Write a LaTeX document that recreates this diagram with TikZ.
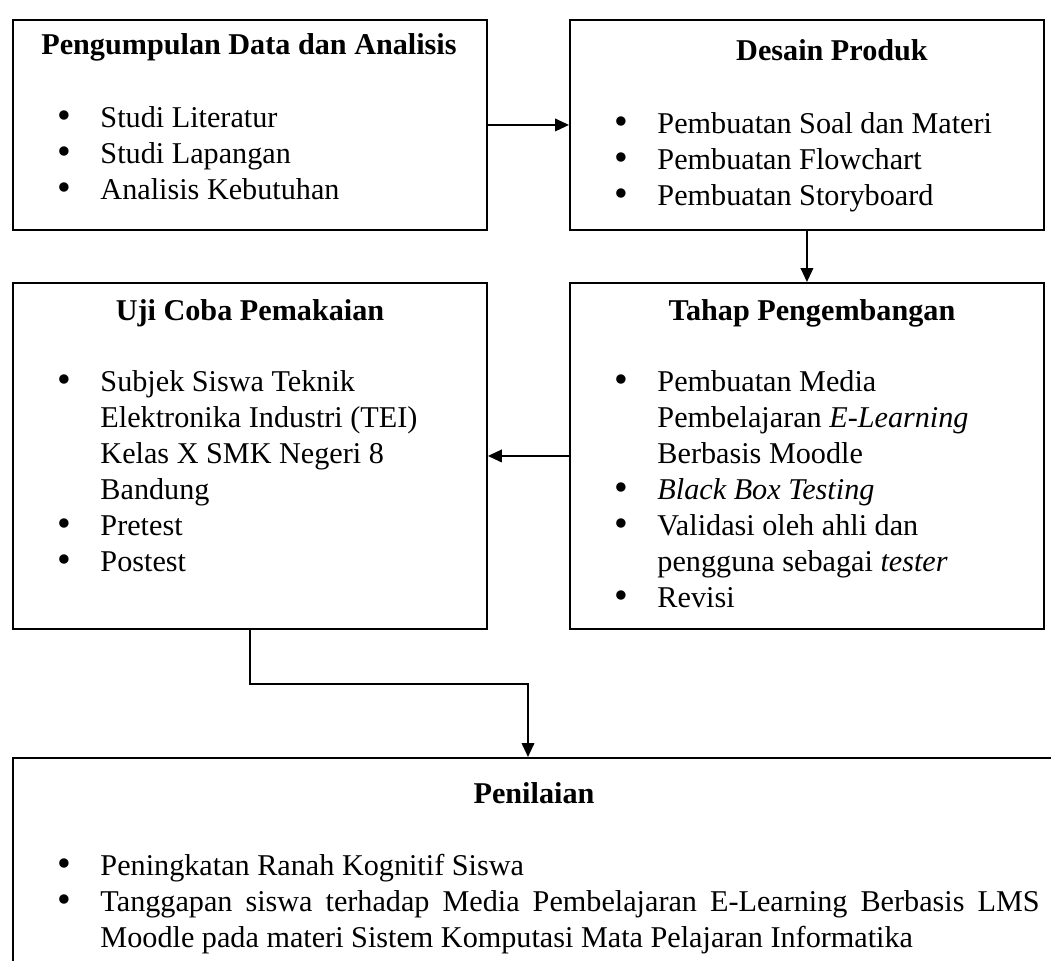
\documentclass[tikz,border=0pt]{standalone}
\usepackage{fontspec}
\setmainfont{Liberation Serif}
\usepackage{tikz}
\usetikzlibrary{positioning}
\usetikzlibrary{arrows.meta}
\hyphenpenalty=10000

\tikzset{
  stage/.style={draw, line width=0.7pt, inner sep=0pt, anchor=north west, minimum width=171.1pt, minimum height=75.8pt},
  title/.style={font=\fontsize{10.9}{13}\selectfont\bfseries, inner sep=0pt, anchor=base},
  items/.style={font=\fontsize{10.9}{13}\selectfont, inner sep=0pt, anchor=base west},
  link/.style={line width=0.7pt, -{Triangle[length=5pt,width=4.5pt]}}
}
\newcommand{\blt}{\raisebox{-0.5pt}{\scalebox{1.3}{\textbullet}}}
\newcommand{\itemlist}[1]{\begin{tabular}[t]{@{}p{15.5pt}@{}l@{}}#1\end{tabular}}

\begin{document}
\begin{tikzpicture}[x=0.361pt, y=-0.361pt]
\useasboundingbox (0,0) rectangle (1051,961);
\clip (0,0) rectangle (1051,961);

% boxes
\node[stage] (kumpul) at (12,19) {};
\node[stage] (desain) at (569,19) {};
\node[stage, minimum height=124.9pt] (tahap) at (569,282) {};
\node[stage, minimum height=124.9pt] (uji) at (12,282) {};
\node[stage, minimum width=379pt, minimum height=87.7pt] (nilai) at (12,757) {};

% titles
\node[title] (tkumpul) at (249,54) {Pengumpulan Data dan Analisis};
\node[title] (tdesain) at (832,60) {Desain Produk};
\node[title] (ttahap) at (812,320) {Tahap Pengembangan};
\node[title] (tuji) at (250,320) {Uji Coba Pemakaian};
\node[title] (tnilai) at (534,803) {Penilaian};

% lists
\node[items] (lkumpul) at (57,127) {\itemlist{
  \blt & Studi Literatur\\
  \blt & Studi Lapangan\\
  \blt & Analisis Kebutuhan}};
\node[items] (ldesain) at (614,133) {\itemlist{
  \blt & Pembuatan Soal dan Materi\\
  \blt & Pembuatan Flowchart\\
  \blt & Pembuatan Storyboard}};
\node[items] (ltahap) at (614,391) {\itemlist{
  \blt & Pembuatan Media\\
       & Pembelajaran \textit{E-Learning}\\
       & Berbasis Moodle\\
  \blt & \textit{Black Box Testing}\\
  \blt & Validasi oleh ahli dan\\
       & pengguna sebagai \textit{tester}\\
  \blt & Revisi}};
\node[items] (luji) at (57,391) {\itemlist{
  \blt & Subjek Siswa Teknik\\
       & Elektronika Industri (TEI)\\
       & Kelas X SMK Negeri 8\\
       & Bandung\\
  \blt & Pretest\\
  \blt & Postest}};
\node[items] (lnilai) at (57,875) {\begin{tabular}[t]{@{}p{15.5pt}@{}p{339pt}@{}}
  \blt & Peningkatan Ranah Kognitif Siswa\\
  \blt & Tanggapan siswa terhadap Media Pembelajaran E-Learning Berbasis LMS\linebreak
         Moodle pada materi Sistem Komputasi Mata Pelajaran Informatika
  \end{tabular}};

% arrows
\coordinate (bend) at (528,684);
\draw[link] (kumpul.east) -- (desain.west);
\draw[link] (desain.south) -- (tahap.north);
\draw[link] (tahap.west) -- (uji.east);
\draw[link] (uji.south) |- (bend) -- (bend |- nilai.north);

\end{tikzpicture}
\end{document}
